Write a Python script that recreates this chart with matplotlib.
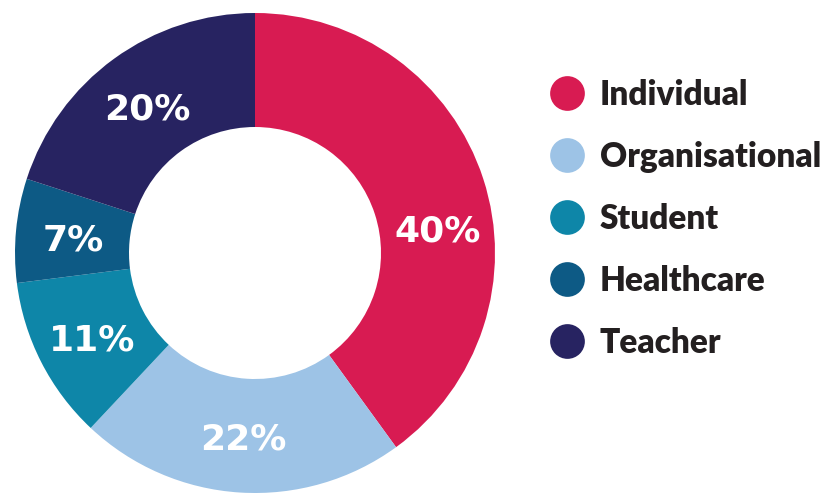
import matplotlib
matplotlib.use("Agg")
import matplotlib.pyplot as plt
from matplotlib.lines import Line2D
import numpy as np

categories = ["Individual", "Organisational", "Student", "Healthcare", "Teacher"]
values = [40, 22, 11, 7, 20]
colors = ["#D81B52", "#9DC3E6", "#0E86A8", "#0D5A85", "#272361"]

W, H = 823, 493
fig = plt.figure(figsize=(W / 100, H / 100), dpi=100)
cx, cy, R = 255, 253, 240
ax = fig.add_axes([(cx - R) / W, (H - cy - R) / H, 2 * R / W, 2 * R / H])

wedges, texts, autotexts = ax.pie(
    values, colors=colors, startangle=90, counterclock=False, radius=1.0,
    wedgeprops=dict(width=0.475, linewidth=0),
    autopct=lambda p: f"{p:.0f}%", pctdistance=0.76,
    textprops=dict(color="white", fontsize=26, fontweight="bold", family="DejaVu Sans"),
)
ax.set_xlim(-1, 1)
ax.set_ylim(-1, 1)
ax.set_aspect("equal")
ax.axis("off")

# vertical nudge so the glyphs (not the full text box) sit on the ring centre
for t in autotexts:
    x, y = t.get_position()
    t.set_position((x, y - 0.018))
# the large-slice label sits closer to horizontal in the reference
ang = np.deg2rad(8)
autotexts[0].set_position((0.77 * np.cos(ang), 0.77 * np.sin(ang) - 0.018))

handles = [Line2D([], [], marker="o", linestyle="none", markersize=25,
                  markerfacecolor=c, markeredgewidth=0) for c in colors]
leg = fig.legend(handles, categories, loc="upper left",
                 bbox_to_anchor=(550 / W, 1 - 79 / H), frameon=False,
                 prop=dict(family="Lato", weight="heavy", size=24),
                 labelspacing=0.9, handletextpad=0.49, handlelength=1.0,
                 borderpad=0, borderaxespad=0)
for t in leg.get_texts():
    t.set_color("#231F20")

fig.savefig("out.png", dpi=100)
